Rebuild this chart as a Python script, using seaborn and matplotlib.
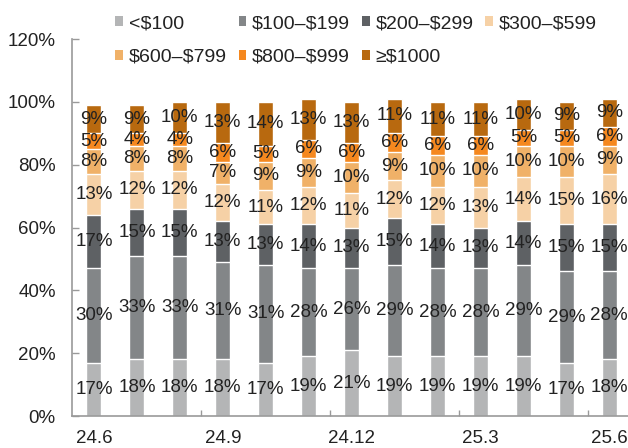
import numpy as np
import pandas as pd
import matplotlib
matplotlib.use("Agg")
import matplotlib.pyplot as plt
import seaborn as sns
from matplotlib.patches import Patch

months = ["24.6", "24.7", "24.8", "24.9", "24.10", "24.11", "24.12",
          "25.1", "25.2", "25.3", "25.4", "25.5", "25.6"]

bands = ["<\\$100", "\\$100–\\$199", "\\$200–\\$299", "\\$300–\\$599",
         "\\$600–\\$799", "\\$800–\\$999", "≥\\$1000"]

under_100 = [17, 18, 18, 18, 17, 19, 21, 19, 19, 19, 19, 17, 18]
p100_199 = [30, 33, 33, 31, 31, 28, 26, 29, 28, 28, 29, 29, 28]
p200_299 = [17, 15, 15, 13, 13, 14, 13, 15, 14, 13, 14, 15, 15]
p300_599 = [13, 12, 12, 12, 11, 12, 11, 12, 12, 13, 14, 15, 16]
p600_799 = [8, 8, 8, 7, 9, 9, 10, 9, 10, 10, 10, 10, 9]
p800_999 = [5, 4, 4, 6, 5, 6, 6, 6, 6, 6, 5, 5, 6]
over_1000 = [9, 9, 10, 13, 14, 13, 13, 11, 11, 11, 10, 9, 9]

colors = ["#b4b5b6", "#838688", "#5e6164", "#f6d1a6",
          "#f0b168", "#f5881f", "#b8690f"]

shares = np.array([under_100, p100_199, p200_299, p300_599,
                   p600_799, p800_999, over_1000]) / 100.0
cum = shares.cumsum(axis=0)

plt.rcParams['font.family'] = ['Liberation Sans', 'DejaVu Sans']
text_color = "#222222"

fig = plt.figure(figsize=(6.28, 4.48), dpi=100)
ax = fig.add_axes([0.1154, 0.0714, 0.889, 0.8415])

# stacked bars: draw cumulative totals from the top band down
for k in range(len(bands) - 1, -1, -1):
    df = pd.DataFrame({"month": months, "value": cum[k]})
    sns.barplot(data=df, x="month", y="value", color=colors[k], saturation=1,
                width=0.35, edgecolor="white", linewidth=1, errorbar=None,
                order=months, ax=ax)

# segment labels
for k in range(len(bands)):
    for i in range(len(months)):
        mid = cum[k][i] - shares[k][i] / 2
        ax.text(i, mid, f"{round(shares[k][i] * 100)}%", ha="center", va="center",
                fontsize=13.5, color=text_color)

ax.set_xlim(-0.5, 12.5)
ax.set_ylim(0, 1.2)
ax.set_yticks(np.arange(0, 1.21, 0.2))
ax.set_yticklabels([f"{int(round(v * 100))}%" for v in np.arange(0, 1.21, 0.2)])
ax.set_xticks([0, 3, 6, 9, 12])
ax.set_xticklabels(["24.6", "24.9", "24.12", "25.3", "25.6"])
ax.set_xticks([2.5, 5.5, 8.5, 11.5], minor=True)
ax.set_xlabel("")
ax.set_ylabel("")

ax.tick_params(axis="y", direction="in", length=5, width=1, color="#999999",
               pad=12, labelsize=13.5, labelcolor=text_color)
ax.tick_params(axis="x", which="major", length=0, pad=10, labelsize=13.5,
               labelcolor=text_color)
ax.tick_params(axis="x", which="minor", direction="in", length=4, width=1,
               color="#999999")

for side in ["top", "right"]:
    ax.spines[side].set_visible(False)
for side in ["left", "bottom"]:
    ax.spines[side].set_color("#999999")
    ax.spines[side].set_linewidth(1.2)

# legend filled row by row (matplotlib fills columns first)
order = [0, 4, 1, 5, 2, 6, 3]
handles = [Patch(facecolor=colors[j], edgecolor="none") for j in order]
labels = [bands[j] for j in order]
fig.legend(handles, labels, loc="upper left", bbox_to_anchor=(0.168, 0.988),
           ncol=4, frameon=False, fontsize=14, handlelength=0.4, handleheight=0.4,
           handletextpad=0.3, columnspacing=0.6, labelspacing=0.85,
           borderpad=0, labelcolor=text_color)

fig.savefig("out.png", dpi=100)
